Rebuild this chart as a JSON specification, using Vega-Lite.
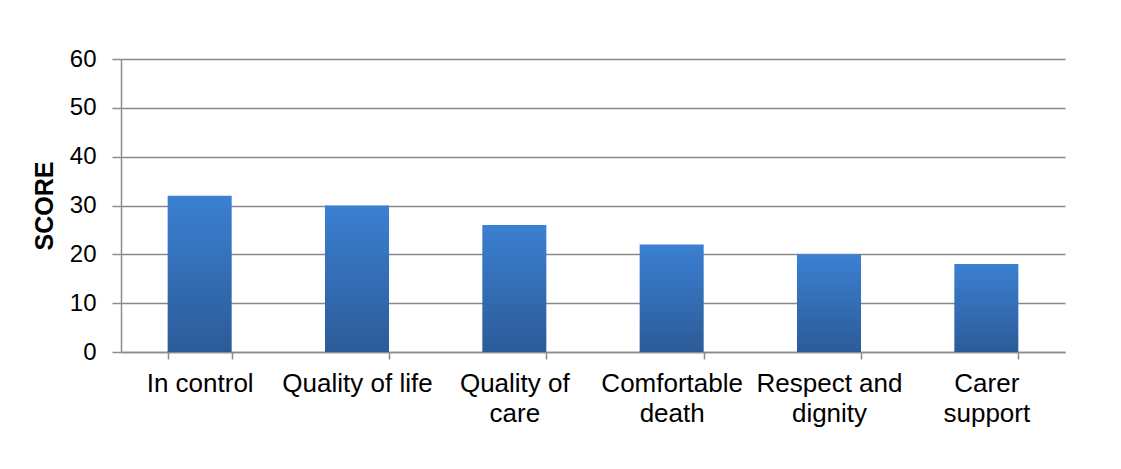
{
  "$schema": "https://vega.github.io/schema/vega-lite/v6.json",
  "width": 944,
  "height": 293,
  "autosize": "none",
  "padding": {"left": 121, "top": 59, "right": 56, "bottom": 117},
  "background": "white",
  "config": {"view": {"stroke": null}, "font": "Liberation Sans"},
  "data": {"values": [
    {"category": "In control", "score": 32},
    {"category": "Quality of life", "score": 30},
    {"category": "Quality of care", "score": 26},
    {"category": "Comfortable death", "score": 22},
    {"category": "Respect and dignity", "score": 20},
    {"category": "Carer support", "score": 18}
  ]},
  "mark": {
    "type": "bar",
    "color": {"gradient": "linear", "x1": 0, "y1": 0, "x2": 0, "y2": 1,
      "stops": [{"offset": 0, "color": "#3B80D2"}, {"offset": 1, "color": "#2C5B98"}]}
  },
  "encoding": {
    "x": {
      "field": "category", "type": "nominal", "sort": null,
      "scale": {"paddingInner": 0.593, "paddingOuter": 0.2965},
      "axis": {
        "title": null, "labelAngle": 0, "labelFontSize": 26, "labelColor": "#000000",
        "labelFont": "Liberation Sans",
        "labelExpr": "datum.value == 'Quality of care' ? ['Quality of', 'care'] : datum.value == 'Comfortable death' ? ['Comfortable', 'death'] : datum.value == 'Respect and dignity' ? ['Respect and', 'dignity'] : datum.value == 'Carer support' ? ['Carer', 'support'] : datum.value",
        "labelLineHeight": 30, "labelPadding": 11, "labelBaseline": "top",
        "tickBand": "extent", "tickSize": 7, "tickColor": "#8C8C8C", "tickWidth": 1.5,
        "domainColor": "#8C8C8C", "domainWidth": 1.5, "grid": false, "labelLimit": 0
      }
    },
    "y": {
      "field": "score", "type": "quantitative",
      "scale": {"domain": [0, 60]},
      "axis": {
        "title": "SCORE", "titleFontSize": 25, "titleFontWeight": "bold", "titleColor": "#000000",
        "titleFont": "Liberation Sans", "titlePadding": 12,
        "values": [0, 10, 20, 30, 40, 50, 60],
        "labelFontSize": 24, "labelColor": "#000000", "labelFont": "Liberation Sans",
        "labelPadding": 16, "tickSize": 9, "tickColor": "#8C8C8C", "tickWidth": 1.5,
        "domainColor": "#8C8C8C", "domainWidth": 1.5,
        "grid": true, "gridColor": "#888888", "gridWidth": 1.5
      }
    }
  }
}
